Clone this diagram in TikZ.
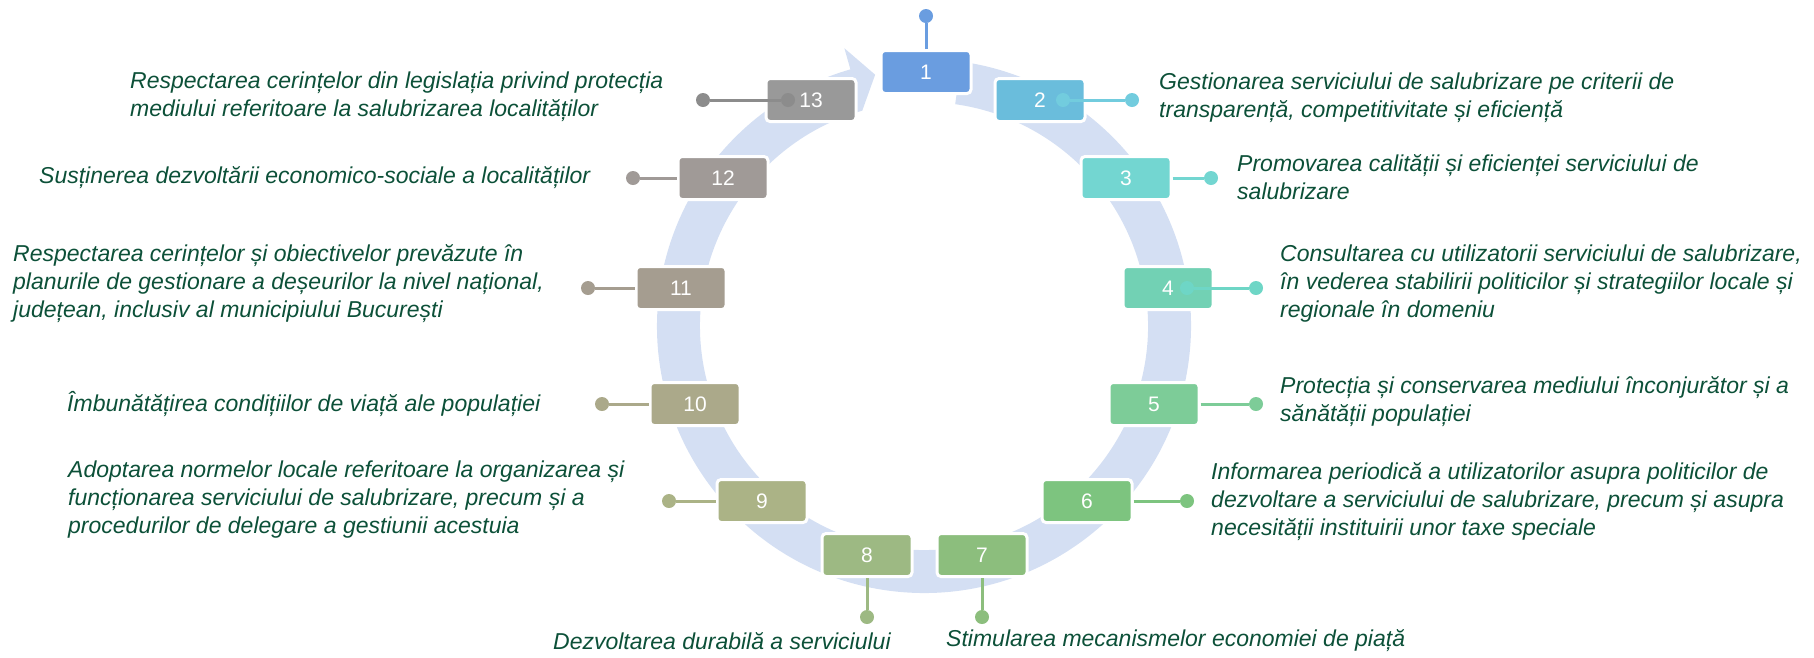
\documentclass[tikz,border=0pt]{standalone}
\usepackage{fontspec}
\setmainfont{Liberation Sans}
\usetikzlibrary{calc}

\definecolor{ring}{RGB}{212,223,243}
\definecolor{txt}{RGB}{12,80,56}
\definecolor{c1}{RGB}{106,157,224}
\definecolor{c2}{RGB}{106,189,220}
\definecolor{c3}{RGB}{115,214,209}
\definecolor{c4}{RGB}{114,209,180}
\definecolor{c5}{RGB}{125,204,152}
\definecolor{c6}{RGB}{125,196,127}
\definecolor{c7}{RGB}{140,190,125}
\definecolor{c8}{RGB}{157,185,131}
\definecolor{c9}{RGB}{171,179,134}
\definecolor{c10}{RGB}{171,169,138}
\definecolor{c11}{RGB}{165,157,144}
\definecolor{c12}{RGB}{160,154,151}
\definecolor{c13}{RGB}{153,153,153}
\definecolor{p2}{RGB}{114,204,222}
\definecolor{p4}{RGB}{110,214,198}
\definecolor{p13}{RGB}{140,140,140}

\begin{document}
\begin{tikzpicture}[x=1pt, y=1pt,
    numbox/.style={rectangle, rounded corners=4pt, draw=white, line width=3pt,
        minimum width=90pt, minimum height=43pt, text=white, font=\fontsize{21}{21}\selectfont},
    pindot/.style={circle, inner sep=0pt, minimum size=14pt},
    pinline/.style={line width=3pt},
    desc/.style={anchor=west, align=left, inner sep=0pt, text=txt,
        font=\itshape\fontsize{23}{28}\selectfont}]
    \useasboundingbox (0,0) rectangle (1814,-657);

    % circular band with its arrow head
    \coordinate (c) at (924,-326);
    \fill[ring] ($(c)+(82:267)$) arc[start angle=82, end angle=-254, radius=267]
        -- ($(c)+(-254:289)$) -- ($(c)+(-259:256)$) -- ($(c)+(-254:224)$)
        arc[start angle=-254, end angle=82, radius=224] -- cycle;

    % numbered boxes
    \node[numbox, fill=c1] (b1) at (926,-72) {1};
    \node[numbox, fill=c2] (b2) at (1040,-100) {2};
    \node[numbox, fill=c3] (b3) at (1126,-178) {3};
    \node[numbox, fill=c4] (b4) at (1168,-288) {4};
    \node[numbox, fill=c5] (b5) at (1154,-404) {5};
    \node[numbox, fill=c6] (b6) at (1087,-501) {6};
    \node[numbox, fill=c7] (b7) at (982,-555) {7};
    \node[numbox, fill=c8] (b8) at (867,-555) {8};
    \node[numbox, fill=c9] (b9) at (762,-501) {9};
    \node[numbox, fill=c10] (b10) at (695,-404) {10};
    \node[numbox, fill=c11] (b11) at (681,-288) {11};
    \node[numbox, fill=c12] (b12) at (723,-178) {12};
    \node[numbox, fill=c13] (b13) at (811,-100) {13};

    % pins
    \node[pindot, fill=c1] (d1) at (926,-16) {};
    \node[pindot, fill=p2] (i2) at (1063,-100) {};
    \node[pindot, fill=p2] (d2) at (1132,-100) {};
    \node[pindot, fill=c3] (d3) at (1211,-178) {};
    \node[pindot, fill=p4] (i4) at (1187,-288) {};
    \node[pindot, fill=p4] (d4) at (1256,-288) {};
    \node[pindot, fill=c5] (d5) at (1256,-404) {};
    \node[pindot, fill=c6] (d6) at (1187,-501) {};
    \node[pindot, fill=c7] (d7) at (982,-617) {};
    \node[pindot, fill=c8] (d8) at (867,-617) {};
    \node[pindot, fill=c9] (d9) at (669,-501) {};
    \node[pindot, fill=c10] (d10) at (602,-404) {};
    \node[pindot, fill=c11] (d11) at (588,-288) {};
    \node[pindot, fill=c12] (d12) at (633,-178) {};
    \node[pindot, fill=p13] (i13) at (788,-100) {};
    \node[pindot, fill=p13] (d13) at (703,-100) {};

    \draw[pinline, c1] (b1) -- (d1);
    \draw[pinline, p2] (i2) -- (d2);
    \draw[pinline, c3] (b3) -- (d3);
    \draw[pinline, p4] (i4) -- (d4);
    \draw[pinline, c5] (b5) -- (d5);
    \draw[pinline, c6] (b6) -- (d6);
    \draw[pinline, c7] (b7) -- (d7);
    \draw[pinline, c8] (b8) -- (d8);
    \draw[pinline, c9] (b9) -- (d9);
    \draw[pinline, c10] (b10) -- (d10);
    \draw[pinline, c11] (b11) -- (d11);
    \draw[pinline, c12] (b12) -- (d12);
    \draw[pinline, p13] (i13) -- (d13);

    % texts
    \node[desc] (t2) at (1159,-98) {Gestionarea serviciului de salubrizare pe criterii de\\transparență, competitivitate și eficiență};
    \node[desc] (t3) at (1237,-177) {Promovarea calității și eficienței serviciului de\\salubrizare};
    \node[desc] (t4) at (1280,-284) {Consultarea cu utilizatorii serviciului de salubrizare,\\în vederea stabilirii politicilor și strategiilor locale și\\regionale în domeniu};
    \node[desc] (t5) at (1280,-402) {Protecția și conservarea mediului înconjurător și a\\sănătății populației};
    \node[desc] (t6) at (1211,-502) {Informarea periodică a utilizatorilor asupra politicilor de\\dezvoltare a serviciului de salubrizare, precum și asupra\\necesității instituirii unor taxe speciale};
    \node[desc] (t7) at (946,-641) {Stimularea mecanismelor economiei de piață};
    \node[desc] (t8) at (553,-641) {Dezvoltarea durabilă a serviciului};
    \node[desc] (t9) at (68,-500) {Adoptarea normelor locale referitoare la organizarea și\\funcționarea serviciului de salubrizare, precum și a\\procedurilor de delegare a gestiunii acestuia};
    \node[desc] (t10) at (67,-404) {Îmbunătățirea condițiilor de viață ale populației};
    \node[desc] (t11) at (13,-284) {Respectarea cerințelor și obiectivelor prevăzute în\\planurile de gestionare a deșeurilor la nivel național,\\județean, inclusiv al municipiului București};
    \node[desc] (t12) at (39,-178) {Susținerea dezvoltării economico-sociale a localităților};
    \node[desc] (t13) at (130,-97) {Respectarea cerințelor din legislația privind protecția\\mediului referitoare la salubrizarea localităților};
\end{tikzpicture}
\end{document}
